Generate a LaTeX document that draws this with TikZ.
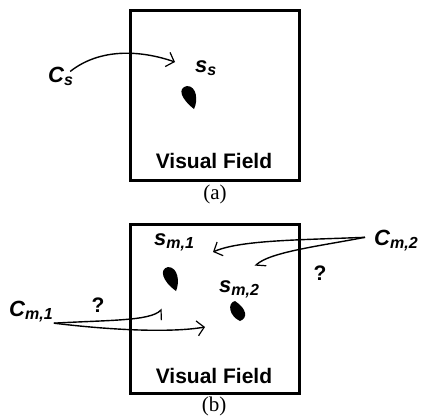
\documentclass[tikz,border=0pt]{standalone}
\usepackage{fontspec}
\setmainfont{Liberation Serif}
\newfontfamily\arialfont{Liberation Sans}
\usetikzlibrary{arrows.meta}
\newcommand{\symlbl}[2]{{\arialfont\bfseries\itshape\fontsize{22}{22}\selectfont #1\raisebox{-0.3ex}{\fontsize{16}{16}\selectfont #2}}}
\tikzset{
  fieldbox/.style={draw, line width=3pt},
  fieldlabel/.style={font=\arialfont\bfseries\fontsize{21}{21}\selectfont},
  caption/.style={font=\fontsize{21}{21}\selectfont},
  qmark/.style={font=\arialfont\bfseries\fontsize{21}{21}\selectfont},
  symbol/.style={anchor=base west, inner sep=1pt},
  arrow/.style={line width=1.4pt, -{Straight Barb[length=7pt,width=15pt,line width=1.2pt]}},
  harpoon/.style={line width=1.4pt, -{Straight Barb[harpoon,length=7pt,width=15pt,line width=1.2pt]}},
  harpoonswap/.style={line width=1.4pt, -{Straight Barb[harpoon,swap,length=7pt,width=15pt,line width=1.2pt]}},
  blob/.style={fill=black}
}
\begin{document}
\begin{tikzpicture}[x=1pt,y=-1pt]
  \useasboundingbox (0,0) rectangle (422,418);

  % (a) single source
  \node[fieldbox, minimum width=169pt, minimum height=170pt] (boxa) at (214.5,95) {};
  \node[fieldlabel] (vfa) at (214,161) {Visual Field};
  \node[caption] (capa) at (215,194) {(a)};
  \node[symbol] (Cs) at (47,82) {\symlbl{C}{s}};
  \node[symbol] (ss) at (194,72) {\symlbl{s}{s}};
  \coordinate (tipa) at (175,62);
  \fill[blob] (187,86) .. controls (177,88) and (181,99) .. (194,109)
    .. controls (198,101) and (197,86) .. (187,86) -- cycle;
  \draw[arrow] (Cs.north east) ++(-4,6) .. controls (100,48) and (140,50) .. (tipa);

  % (b) multiple sources
  \node[fieldbox, minimum width=169pt, minimum height=169pt] (boxb) at (214.5,308.5) {};
  \node[fieldlabel] (vfb) at (214,376) {Visual Field};
  \node[caption] (capb) at (214,406) {(b)};
  \node[symbol] (Cm1) at (8,316) {\symlbl{C}{m,1}};
  \node[symbol] (Cm2) at (373,245) {\symlbl{C}{m,2}};
  \node[symbol] (sm1) at (153,245) {\symlbl{s}{m,1}};
  \node[symbol] (sm2) at (218,292) {\symlbl{s}{m,2}};
  \node[qmark] (q1) at (98,305) {?};
  \node[qmark] (q2) at (320,273) {?};
  \coordinate (t11) at (162,309);
  \coordinate (t12) at (205,327);
  \coordinate (t21) at (213,252);
  \coordinate (t22) at (255,266);
  \fill[blob] (168,267) .. controls (159,269) and (162,281) .. (176,291)
    .. controls (180,282) and (178,267) .. (168,267) -- cycle;
  \fill[blob] (235,301) .. controls (227,303) and (229,316) .. (240,321)
    .. controls (248,318) and (247,309) .. (235,301) -- cycle;
  \draw[harpoonswap] (Cm1.south east) .. controls (110,320) and (150,321) .. (t11);
  \draw[arrow] (Cm1.south east) .. controls (110,330) and (170,333) .. (t12);
  \draw[arrow] (Cm2.west) ++(-8,-3) .. controls (300,240) and (240,240) .. (t21);
  \draw[harpoon] (Cm2.west) ++(-8,-3) .. controls (320,246) and (270,252) .. (t22);
\end{tikzpicture}
\end{document}
